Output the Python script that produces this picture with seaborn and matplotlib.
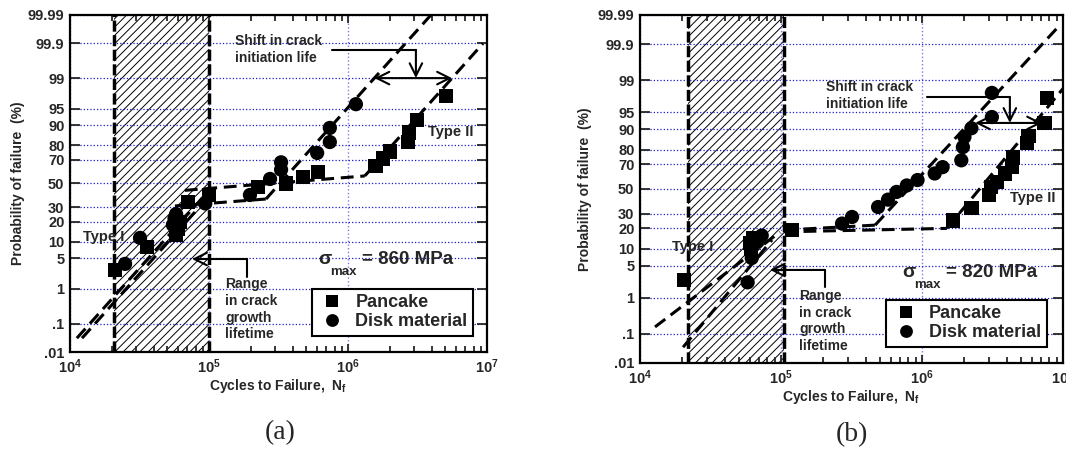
import numpy as np
import pandas as pd
import seaborn as sns
import matplotlib
matplotlib.use("Agg")
import matplotlib.pyplot as plt
from matplotlib.ticker import FixedLocator, NullLocator, LogLocator, FuncFormatter
from statistics import NormalDist

# ---- values ----
# (a) sigma_max = 860 MPa
a_pancake_N = [2.11e4, 3.58e4, 5.8e4, 6.0e4, 6.2e4, 7.06e4, 1.0e5, 2.25e5, 3.6e5, 4.75e5,
               6.1e5, 1.58e6, 1.78e6, 2.0e6, 2.7e6, 2.75e6, 3.13e6, 5.1e6]
a_pancake_P = [2.8, 8, 13, 16, 20, 34, 40, 47, 50, 56, 60, 65, 71, 76, 82, 87, 92, 97.3]
a_disk_N = [2.49e4, 3.19e4, 5.5e4, 5.65e4, 5.8e4, 9.4e4, 1.97e5, 2.75e5, 3.3e5, 3.3e5,
            6.0e5, 7.4e5, 7.4e5, 1.14e6]
a_disk_P = [3.8, 11.5, 18, 22, 25, 33, 40, 54, 62, 68, 75, 82, 89, 96]

# (b) sigma_max = 820 MPa
b_pancake_N = [2.05e4, 6.0e4, 6.1e4, 6.3e4, 1.2e5, 1.66e6, 2.24e6, 3.0e6, 3.1e6, 3.4e6,
               3.87e6, 4.36e6, 4.4e6, 5.56e6, 5.7e6, 7.4e6, 7.7e6]
b_pancake_P = [2.6, 12.5, 10, 14.7, 19, 25, 34, 45, 51.7, 56, 63, 68, 75, 83.7, 87, 92, 97.4]
b_disk_N = [5.8e4, 6.2e4, 6.75e4, 7.3e4, 2.71e5, 3.19e5, 4.88e5, 5.74e5, 6.6e5, 7.8e5,
            9.3e5, 1.23e6, 1.4e6, 1.9e6, 1.95e6, 2.0e6, 2.24e6, 3.13e6, 3.13e6]
b_disk_P = [2.3, 7, 13, 16, 23, 27.5, 35, 41, 47.5, 53, 57.6, 63, 68, 73, 81.5, 86.7,
            90.3, 93.8, 98]

# dashed fit segments (start, end)
a_fit_N = [(1.12e4, 9.35e4), (1.22e4, 1.02e5), (6.7e4, 1.32e6), (5.69e4, 2.57e5),
           (1.32e6, 9.35e6), (2.57e5, 3.95e6)]
a_fit_P = [(0.032, 40), (0.032, 40), (44, 56.6), (31, 36.6), (56.6, 99.9), (36.6, 99.99)]
b_fit_N = [(1.278e4, 9.84e4), (2.02e4, 8.63e4), (1.05e5, 1.5e6), (1.05e5, 4.65e5),
           (1.5e6, 1e7), (4.65e5, 9.5e6)]
b_fit_P = [(0.16, 17.9), (0.036, 13.8), (18, 20), (19, 22), (20, 98.4), (22, 99.977)]

# crack growth range (hatched)
a_range = (2.07e4, 1.0e5)
b_range = (2.19e4, 1.05e5)

prob_ticks = [0.01, 0.1, 1, 5, 10, 20, 30, 50, 70, 80, 90, 95, 99, 99.9, 99.99]
prob_labels = ['.01', '.1', '1', '5', '10', '20', '30', '50', '70', '80', '90', '95',
               '99', '99.9', '99.99']

sns.set_style("ticks")
plt.rcParams['font.family'] = ['Liberation Sans', 'DejaVu Sans']
plt.rcParams['font.weight'] = 'bold'
plt.rcParams['axes.labelweight'] = 'bold'
plt.rcParams['mathtext.fontset'] = 'custom'
plt.rcParams['mathtext.rm'] = 'Liberation Sans:bold'
plt.rcParams['mathtext.it'] = 'Liberation Sans:bold'
plt.rcParams['mathtext.bf'] = 'Liberation Sans:bold'
plt.rcParams['mathtext.default'] = 'rm'
plt.rcParams['hatch.linewidth'] = 0.7

nd = NormalDist()
_fwd = np.vectorize(lambda v: nd.inv_cdf(v / 100.0), otypes=[float])
_inv = np.vectorize(lambda v: nd.cdf(v) * 100.0, otypes=[float])


def prob_fwd(p):
    p = np.clip(np.asarray(p, dtype=float), 1e-7, 100 - 1e-7)
    return _fwd(p)


def prob_inv(z):
    return _inv(np.asarray(z, dtype=float))


def style_axes(ax):
    ax.set_xscale('log')
    ax.set_yscale('function', functions=(prob_fwd, prob_inv))
    ax.set_xlim(1e4, 1e7)
    ax.set_ylim(0.01, 99.99)
    ax.yaxis.set_major_locator(FixedLocator(prob_ticks))
    ax.yaxis.set_minor_locator(NullLocator())
    ax.set_yticklabels(prob_labels)
    ax.xaxis.set_major_locator(LogLocator(base=10))
    ax.xaxis.set_minor_locator(LogLocator(base=10, subs=np.arange(2, 10)))
    ax.xaxis.set_major_formatter(FuncFormatter(lambda v, p: r'$10^{%d}$' % round(np.log10(v))))
    ax.tick_params(which='both', direction='in', top=True, right=True, width=1.3)
    ax.tick_params(which='major', length=6, labelsize=10.5, pad=4)
    ax.tick_params(which='minor', length=4)
    ax.tick_params(axis='y', length=7)
    for s in ax.spines.values():
        s.set_linewidth(1.6)
        s.set_color('black')
    ax.set_axisbelow('line')
    ax.grid(axis='y', which='major', color='#1a1acc', linestyle=':', linewidth=0.9)
    ax.grid(axis='x', which='major', color='#7a7af0', linestyle=':', linewidth=1.0)
    ax.set_xlabel('Cycles to Failure,  N$_{f}$', fontsize=10)
    ax.set_ylabel('Probability of failure  (%)', fontsize=10)
    ax.xaxis.label.set_va('center')
    ax.yaxis.label.set_va('center')


def draw_panel(ax, pan_N, pan_P, disk_N, disk_P, fit_N, fit_P, rng):
    ax.axvspan(rng[0], rng[1], facecolor='none', edgecolor='black', hatch='////',
               linewidth=0, zorder=1)
    for xv in rng:
        ax.axvline(xv, color='black', lw=2.5, dashes=(3.2, 1.0), zorder=2)
    for n, p in zip(fit_N, fit_P):
        ax.plot(n, p, color='black', lw=2.2, dashes=(4.2, 2.2), zorder=3)
    df = pd.DataFrame({
        'N': list(pan_N) + list(disk_N),
        'P': list(pan_P) + list(disk_P),
        'material': ['Pancake'] * len(pan_N) + ['Disk material'] * len(disk_N),
    })
    sns.scatterplot(data=df, x='N', y='P', hue='material', style='material',
                    markers={'Pancake': 's', 'Disk material': 'o'},
                    palette={'Pancake': 'black', 'Disk material': 'black'},
                    s=105, linewidth=0, ax=ax, zorder=5)
    style_axes(ax)


def leader(ax, xs, ys):
    ax.plot(xs[:-1], ys[:-1], color='black', lw=1.5, zorder=6)
    ax.annotate('', xy=(xs[-1], ys[-1]), xytext=(xs[-2], ys[-2]),
                arrowprops=dict(arrowstyle='->,head_length=0.9,head_width=0.45',
                                color='black', lw=1.5, shrinkA=0, shrinkB=0), zorder=6)


def double_arrow(ax, x0, x1, y):
    ax.annotate('', xy=(x1, y), xytext=(x0, y),
                arrowprops=dict(arrowstyle='<->,head_length=0.9,head_width=0.45',
                                color='black', lw=1.5, shrinkA=0, shrinkB=0), zorder=6)


def legend(ax, anchor):
    leg = ax.legend(loc='lower right', bbox_to_anchor=anchor, frameon=True, fancybox=False,
                    edgecolor='black', framealpha=1, prop={'size': 13, 'weight': 'bold'},
                    handletextpad=0.5, borderpad=0.3, labelspacing=0.1, handlelength=1.6,
                    markerscale=0.9)
    leg.get_frame().set_linewidth(1.5)
    leg.set_zorder(7)


def sigma_label(ax, x, y, value):
    ax.text(x, y, 'σ', transform=ax.transAxes, fontsize=14, va='center', ha='left', zorder=8)
    ax.text(x + 0.028, y - 0.036, 'max', transform=ax.transAxes, fontsize=9.5, va='center',
            ha='left', zorder=8)
    ax.text(x + 0.105, y, '= %d MPa' % value, transform=ax.transAxes, fontsize=13.5,
            va='center', ha='left', zorder=8)


fig = plt.figure(figsize=(10.66, 4.55), dpi=100)
ax_a = fig.add_axes([70 / 1066, 1 - 352 / 455, 417 / 1066, 337 / 455])
ax_b = fig.add_axes([640 / 1066, 1 - 363 / 455, 423 / 1066, 348 / 455])

# ---- panel (a) ----
draw_panel(ax_a, a_pancake_N, a_pancake_P, a_disk_N, a_disk_P, a_fit_N, a_fit_P, a_range)
ax_a.yaxis.set_label_coords(-0.125, 0.5)
ax_a.xaxis.set_label_coords(0.5, -0.10)
legend(ax_a, (0.988, 0.022))
ax_a.text(0.396, 0.945, 'Shift in crack\ninitiation life', transform=ax_a.transAxes,
          fontsize=10, va='top', ha='left', linespacing=1.3, zorder=8)
leader(ax_a, [7.67e5, 3.08e6, 3.08e6], [99.84, 99.84, 99.0])
double_arrow(ax_a, 1.55e6, 5.6e6, 99.0)
ax_a.text(0.372, 0.222, 'Range\nin crack\ngrowth\nlifetime', transform=ax_a.transAxes,
          fontsize=10, va='top', ha='left', linespacing=1.25, zorder=8)
leader(ax_a, [1.875e5, 1.875e5, 7.55e4], [1.95, 4.78, 4.78])
ax_a.text(0.031, 0.341, 'Type I', transform=ax_a.transAxes, fontsize=10.5, va='center', zorder=8)
ax_a.text(0.858, 0.653, 'Type II', transform=ax_a.transAxes, fontsize=10.5, va='center', zorder=8)
sigma_label(ax_a, 0.595, 0.273, 860)

# ---- panel (b) ----
draw_panel(ax_b, b_pancake_N, b_pancake_P, b_disk_N, b_disk_P, b_fit_N, b_fit_P, b_range)
ax_b.yaxis.set_label_coords(-0.13, 0.5)
ax_b.xaxis.set_label_coords(0.5, -0.098)
legend(ax_b, (0.983, 0.021))
ax_b.text(0.44, 0.813, 'Shift in crack\ninitiation life', transform=ax_b.transAxes,
          fontsize=10, va='top', ha='left', linespacing=1.3, zorder=8)
leader(ax_b, [1.08e6, 4.2e6, 4.2e6], [97.5, 97.5, 92.1])
double_arrow(ax_b, 2.38e6, 7.1e6, 92.1)
ax_b.text(0.376, 0.213, 'Range\nin crack\ngrowth\nlifetime', transform=ax_b.transAxes,
          fontsize=10, va='top', ha='left', linespacing=1.25, zorder=8)
leader(ax_b, [2.05e5, 2.05e5, 8.36e4], [1.81, 4.18, 4.18])
ax_b.text(0.076, 0.333, 'Type I', transform=ax_b.transAxes, fontsize=10.5, va='center', zorder=8)
ax_b.text(0.875, 0.474, 'Type II', transform=ax_b.transAxes, fontsize=10.5, va='center', zorder=8)
sigma_label(ax_b, 0.619, 0.259, 820)

fig.text(280 / 1066, 1 - 433 / 455, '(a)', family=['Liberation Serif', 'DejaVu Serif'],
         fontweight='normal', fontsize=20, ha='center', va='center')
fig.text(852 / 1066, 1 - 435 / 455, '(b)', family=['Liberation Serif', 'DejaVu Serif'],
         fontweight='normal', fontsize=20, ha='center', va='center')

fig.savefig('out.png', dpi=100)
